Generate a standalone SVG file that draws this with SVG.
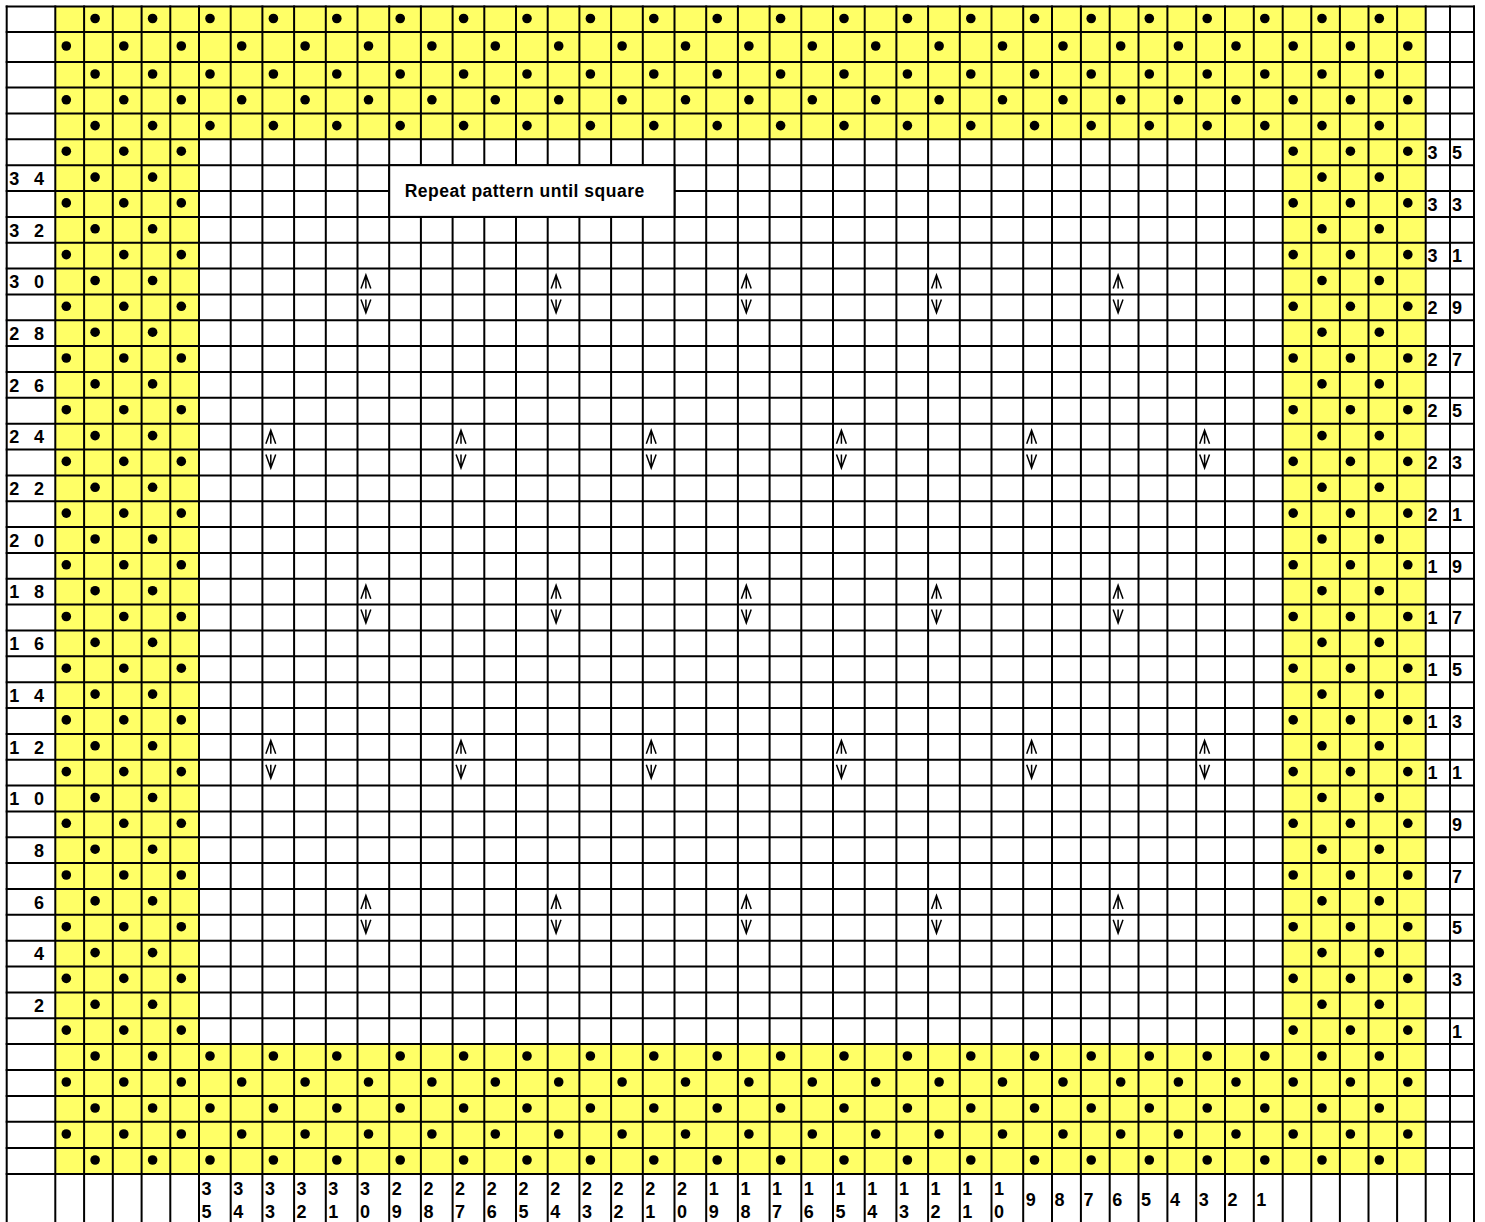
<svg xmlns="http://www.w3.org/2000/svg" width="1485" height="1222" viewBox="0 0 1485 1222">
<style>
.y{fill:#FFFF66}
.g{fill:none;stroke:#000;stroke-width:2;stroke-linecap:square}
.l{font-family:"Liberation Sans",Arial,sans-serif;font-weight:bold;font-size:18px;fill:#000}
.t{font-family:"Liberation Sans",Arial,sans-serif;font-weight:bold;font-size:17.5px;fill:#000}
.s{fill:none;stroke:#000;stroke-width:1.5}
</style>
<defs>
<g id="fo"><circle cx="66.3" r="4.8"/><circle cx="123.8" r="4.8"/><circle cx="181.3" r="4.8"/><circle cx="241.7" r="4.8"/><circle cx="305.1" r="4.8"/><circle cx="368.5" r="4.8"/><circle cx="431.9" r="4.8"/><circle cx="495.3" r="4.8"/><circle cx="558.7" r="4.8"/><circle cx="622.1" r="4.8"/><circle cx="685.5" r="4.8"/><circle cx="748.9" r="4.8"/><circle cx="812.3" r="4.8"/><circle cx="875.7" r="4.8"/><circle cx="939.1" r="4.8"/><circle cx="1002.5" r="4.8"/><circle cx="1063" r="4.8"/><circle cx="1120.7" r="4.8"/><circle cx="1178.4" r="4.8"/><circle cx="1236" r="4.8"/><circle cx="1293.2" r="4.8"/><circle cx="1350.4" r="4.8"/><circle cx="1407.8" r="4.8"/></g>
<g id="fe"><circle cx="95.1" r="4.8"/><circle cx="152.6" r="4.8"/><circle cx="210" r="4.8"/><circle cx="273.4" r="4.8"/><circle cx="336.8" r="4.8"/><circle cx="400.2" r="4.8"/><circle cx="463.6" r="4.8"/><circle cx="527" r="4.8"/><circle cx="590.4" r="4.8"/><circle cx="653.8" r="4.8"/><circle cx="717.2" r="4.8"/><circle cx="780.6" r="4.8"/><circle cx="844" r="4.8"/><circle cx="907.4" r="4.8"/><circle cx="970.8" r="4.8"/><circle cx="1034.5" r="4.8"/><circle cx="1091.2" r="4.8"/><circle cx="1149.3" r="4.8"/><circle cx="1207.2" r="4.8"/><circle cx="1264.8" r="4.8"/><circle cx="1322" r="4.8"/><circle cx="1379.3" r="4.8"/></g>
<g id="so"><circle cx="66.3" r="4.8"/><circle cx="123.8" r="4.8"/><circle cx="181.3" r="4.8"/><circle cx="1293.2" r="4.8"/><circle cx="1350.4" r="4.8"/><circle cx="1407.8" r="4.8"/></g>
<g id="se"><circle cx="95.1" r="4.8"/><circle cx="152.6" r="4.8"/><circle cx="1322" r="4.8"/><circle cx="1379.3" r="4.8"/></g>
<path id="up" class="s" d="M3.5 20L8.4 6.5L13.3 20M8.4 6.5V20"/>
<path id="dn" class="s" d="M3.5 5L8.4 18.5L13.3 5M8.4 5V18.5"/>
<g id="pr"><use href="#up"/><use href="#dn" y="25.85"/></g>
</defs>
<rect width="1485" height="1222" fill="#fff"/>
<g id="bands">
<rect class="y" x="55.3" y="6.5" width="1370.4" height="132.8"/>
<rect class="y" x="55.3" y="1044" width="1370.4" height="130"/>
<rect class="y" x="55.3" y="139.3" width="143.7" height="904.7"/>
<rect class="y" x="1282.7" y="139.3" width="143" height="904.7"/>
</g>
<g id="grid">
<path class="g" d="M6.7 6.5H1474M6.7 32H1474M6.7 62H1474M6.7 87.5H1474M6.7 113.5H1474M6.7 139.3H1474M6.7 165.2H1474M6.7 191H1474M6.7 216.9H1474M6.7 242.7H1474M6.7 268.6H1474M6.7 294.4H1474M6.7 320.3H1474M6.7 346.1H1474M6.7 372H1474M6.7 397.8H1474M6.7 423.7H1474M6.7 449.5H1474M6.7 475.4H1474M6.7 501.2H1474M6.7 527.1H1474M6.7 552.9H1474M6.7 578.8H1474M6.7 604.6H1474M6.7 630.5H1474M6.7 656.3H1474M6.7 682.2H1474M6.7 708H1474M6.7 733.9H1474M6.7 759.7H1474M6.7 785.6H1474M6.7 811.4H1474M6.7 837.3H1474M6.7 863.1H1474M6.7 889H1474M6.7 914.8H1474M6.7 940.7H1474M6.7 966.5H1474M6.7 992.4H1474M6.7 1018.2H1474M6.7 1044H1474M6.7 1070H1474M6.7 1096H1474M6.7 1121.7H1474M6.7 1148H1474M6.7 1174H1474"/>
<path class="g" d="M6.7 6.5V1230M55.3 6.5V1230M84.1 6.5V1230M112.8 6.5V1230M141.6 6.5V1230M170.3 6.5V1230M199 6.5V1230M230.7 6.5V1230M262.4 6.5V1230M294.1 6.5V1230M325.8 6.5V1230M357.5 6.5V1230M389.2 6.5V1230M420.9 6.5V1230M452.6 6.5V1230M484.3 6.5V1230M516 6.5V1230M547.7 6.5V1230M579.4 6.5V1230M611.1 6.5V1230M642.8 6.5V1230M674.5 6.5V1230M706.2 6.5V1230M737.9 6.5V1230M769.6 6.5V1230M801.3 6.5V1230M833 6.5V1230M864.7 6.5V1230M896.4 6.5V1230M928.1 6.5V1230M959.8 6.5V1230M991.5 6.5V1230M1023.2 6.5V1230M1052 6.5V1230M1080.9 6.5V1230M1109.7 6.5V1230M1138.5 6.5V1230M1167.4 6.5V1230M1196.2 6.5V1230M1225 6.5V1230M1253.8 6.5V1230M1282.7 6.5V1230M1311.3 6.5V1230M1339.9 6.5V1230M1368.5 6.5V1230M1397.1 6.5V1230M1425.7 6.5V1230M1450 6.5V1230M1474 6.5V1230"/>
</g>
<g id="note">
<rect x="389.2" y="165.2" width="285.3" height="51.7" fill="#fff" stroke="#000" stroke-width="2"/>
<text class="t" x="404.7" y="196.5" textLength="239.5" lengthAdjust="spacing">Repeat pattern until square</text>
</g>
<g id="dots">
<use href="#fe" y="18.5"/><use href="#fo" y="46"/><use href="#fe" y="74"/><use href="#fo" y="99.8"/><use href="#fe" y="125.6"/>
<use href="#so" y="151.2"/><use href="#se" y="177.1"/><use href="#so" y="202.9"/><use href="#se" y="228.8"/><use href="#so" y="254.6"/><use href="#se" y="280.5"/><use href="#so" y="306.3"/><use href="#se" y="332.2"/><use href="#so" y="358"/><use href="#se" y="383.9"/><use href="#so" y="409.7"/><use href="#se" y="435.6"/><use href="#so" y="461.4"/><use href="#se" y="487.3"/><use href="#so" y="513.1"/><use href="#se" y="539"/><use href="#so" y="564.8"/><use href="#se" y="590.7"/><use href="#so" y="616.5"/><use href="#se" y="642.4"/><use href="#so" y="668.2"/><use href="#se" y="694.1"/><use href="#so" y="719.9"/><use href="#se" y="745.8"/><use href="#so" y="771.6"/><use href="#se" y="797.5"/><use href="#so" y="823.3"/><use href="#se" y="849.2"/><use href="#so" y="875"/><use href="#se" y="900.9"/><use href="#so" y="926.7"/><use href="#se" y="952.6"/><use href="#so" y="978.4"/><use href="#se" y="1004.3"/><use href="#so" y="1030.1"/>
<use href="#fe" y="1056"/><use href="#fo" y="1082"/><use href="#fe" y="1108"/><use href="#fo" y="1134"/><use href="#fe" y="1160"/>
</g>
<g id="symbols">
<use href="#pr" x="357.5" y="268.55"/><use href="#pr" x="547.7" y="268.55"/><use href="#pr" x="737.9" y="268.55"/><use href="#pr" x="928.1" y="268.55"/><use href="#pr" x="1109.7" y="268.55"/>
<use href="#pr" x="262.4" y="423.65"/><use href="#pr" x="452.6" y="423.65"/><use href="#pr" x="642.8" y="423.65"/><use href="#pr" x="833" y="423.65"/><use href="#pr" x="1023.2" y="423.65"/><use href="#pr" x="1196.2" y="423.65"/>
<use href="#pr" x="357.5" y="578.75"/><use href="#pr" x="547.7" y="578.75"/><use href="#pr" x="737.9" y="578.75"/><use href="#pr" x="928.1" y="578.75"/><use href="#pr" x="1109.7" y="578.75"/>
<use href="#pr" x="262.4" y="733.85"/><use href="#pr" x="452.6" y="733.85"/><use href="#pr" x="642.8" y="733.85"/><use href="#pr" x="833" y="733.85"/><use href="#pr" x="1023.2" y="733.85"/><use href="#pr" x="1196.2" y="733.85"/>
<use href="#pr" x="357.5" y="888.95"/><use href="#pr" x="547.7" y="888.95"/><use href="#pr" x="737.9" y="888.95"/><use href="#pr" x="928.1" y="888.95"/><use href="#pr" x="1109.7" y="888.95"/>
</g>
<g id="left-labels" class="l">
<text y="184.8"><tspan x="9.3">3</tspan><tspan x="34">4</tspan></text>
<text y="236.5"><tspan x="9.3">3</tspan><tspan x="34">2</tspan></text>
<text y="288.2"><tspan x="9.3">3</tspan><tspan x="34">0</tspan></text>
<text y="339.9"><tspan x="9.3">2</tspan><tspan x="34">8</tspan></text>
<text y="391.6"><tspan x="9.3">2</tspan><tspan x="34">6</tspan></text>
<text y="443.3"><tspan x="9.3">2</tspan><tspan x="34">4</tspan></text>
<text y="495"><tspan x="9.3">2</tspan><tspan x="34">2</tspan></text>
<text y="546.7"><tspan x="9.3">2</tspan><tspan x="34">0</tspan></text>
<text y="598.4"><tspan x="9.3">1</tspan><tspan x="34">8</tspan></text>
<text y="650.1"><tspan x="9.3">1</tspan><tspan x="34">6</tspan></text>
<text y="701.8"><tspan x="9.3">1</tspan><tspan x="34">4</tspan></text>
<text y="753.5"><tspan x="9.3">1</tspan><tspan x="34">2</tspan></text>
<text y="805.2"><tspan x="9.3">1</tspan><tspan x="34">0</tspan></text>
<text x="34" y="856.9">8</text>
<text x="34" y="908.6">6</text>
<text x="34" y="960.3">4</text>
<text x="34" y="1012">2</text>
</g>
<g id="right-labels" class="l">
<text y="158.9"><tspan x="1427.5">3</tspan><tspan x="1452">5</tspan></text>
<text y="210.6"><tspan x="1427.5">3</tspan><tspan x="1452">3</tspan></text>
<text y="262.3"><tspan x="1427.5">3</tspan><tspan x="1452">1</tspan></text>
<text y="314"><tspan x="1427.5">2</tspan><tspan x="1452">9</tspan></text>
<text y="365.7"><tspan x="1427.5">2</tspan><tspan x="1452">7</tspan></text>
<text y="417.4"><tspan x="1427.5">2</tspan><tspan x="1452">5</tspan></text>
<text y="469.1"><tspan x="1427.5">2</tspan><tspan x="1452">3</tspan></text>
<text y="520.8"><tspan x="1427.5">2</tspan><tspan x="1452">1</tspan></text>
<text y="572.5"><tspan x="1427.5">1</tspan><tspan x="1452">9</tspan></text>
<text y="624.2"><tspan x="1427.5">1</tspan><tspan x="1452">7</tspan></text>
<text y="675.9"><tspan x="1427.5">1</tspan><tspan x="1452">5</tspan></text>
<text y="727.6"><tspan x="1427.5">1</tspan><tspan x="1452">3</tspan></text>
<text y="779.3"><tspan x="1427.5">1</tspan><tspan x="1452">1</tspan></text>
<text x="1452" y="831">9</text>
<text x="1452" y="882.7">7</text>
<text x="1452" y="934.4">5</text>
<text x="1452" y="986.1">3</text>
<text x="1452" y="1037.8">1</text>
</g>
<g id="column-labels" class="l">
<text x="201.5" y="1195">3<tspan x="201.5" dy="22.5">5</tspan></text>
<text x="233.2" y="1195">3<tspan x="233.2" dy="22.5">4</tspan></text>
<text x="264.9" y="1195">3<tspan x="264.9" dy="22.5">3</tspan></text>
<text x="296.6" y="1195">3<tspan x="296.6" dy="22.5">2</tspan></text>
<text x="328.3" y="1195">3<tspan x="328.3" dy="22.5">1</tspan></text>
<text x="360" y="1195">3<tspan x="360" dy="22.5">0</tspan></text>
<text x="391.7" y="1195">2<tspan x="391.7" dy="22.5">9</tspan></text>
<text x="423.4" y="1195">2<tspan x="423.4" dy="22.5">8</tspan></text>
<text x="455.1" y="1195">2<tspan x="455.1" dy="22.5">7</tspan></text>
<text x="486.8" y="1195">2<tspan x="486.8" dy="22.5">6</tspan></text>
<text x="518.5" y="1195">2<tspan x="518.5" dy="22.5">5</tspan></text>
<text x="550.2" y="1195">2<tspan x="550.2" dy="22.5">4</tspan></text>
<text x="581.9" y="1195">2<tspan x="581.9" dy="22.5">3</tspan></text>
<text x="613.6" y="1195">2<tspan x="613.6" dy="22.5">2</tspan></text>
<text x="645.3" y="1195">2<tspan x="645.3" dy="22.5">1</tspan></text>
<text x="677" y="1195">2<tspan x="677" dy="22.5">0</tspan></text>
<text x="708.7" y="1195">1<tspan x="708.7" dy="22.5">9</tspan></text>
<text x="740.4" y="1195">1<tspan x="740.4" dy="22.5">8</tspan></text>
<text x="772.1" y="1195">1<tspan x="772.1" dy="22.5">7</tspan></text>
<text x="803.8" y="1195">1<tspan x="803.8" dy="22.5">6</tspan></text>
<text x="835.5" y="1195">1<tspan x="835.5" dy="22.5">5</tspan></text>
<text x="867.2" y="1195">1<tspan x="867.2" dy="22.5">4</tspan></text>
<text x="898.9" y="1195">1<tspan x="898.9" dy="22.5">3</tspan></text>
<text x="930.6" y="1195">1<tspan x="930.6" dy="22.5">2</tspan></text>
<text x="962.3" y="1195">1<tspan x="962.3" dy="22.5">1</tspan></text>
<text x="994" y="1195">1<tspan x="994" dy="22.5">0</tspan></text>
<text x="1025.7" y="1206">9</text>
<text x="1054.5" y="1206">8</text>
<text x="1083.4" y="1206">7</text>
<text x="1112.2" y="1206">6</text>
<text x="1141" y="1206">5</text>
<text x="1169.9" y="1206">4</text>
<text x="1198.7" y="1206">3</text>
<text x="1227.5" y="1206">2</text>
<text x="1256.3" y="1206">1</text>
</g>
</svg>
